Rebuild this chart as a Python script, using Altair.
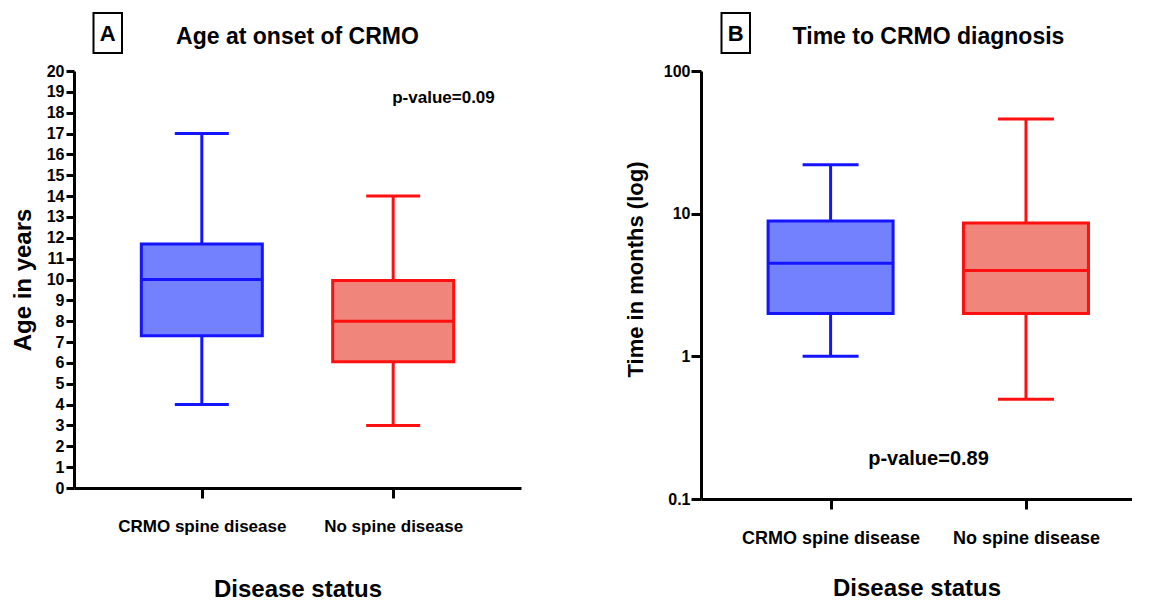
import altair as alt
import pandas as pd

# ---------------- data ----------------
groups = ["CRMO spine disease", "No spine disease"]

age_min = [4, 3]
age_q1 = [7.3, 6.05]
age_med = [10, 8]
age_q3 = [11.7, 9.95]
age_max = [17, 14]

time_min = [1.0, 0.5]
time_q1 = [2.0, 2.0]
time_med = [4.5, 4.0]
time_q3 = [8.9, 8.6]
time_max = [22, 46]

age_ticks = list(range(0, 21))
time_ticks = [0.1, 1, 10, 100]

stroke_colors = ["#1414FF", "#FF1010"]
fill_colors = ["#7381FF", "#F0857B"]
FONT = "Liberation Sans"


def panel(mins, q1, med, q3, maxs, width, height, yscale, yaxis, ytitle,
          box_size, cap_size, xpad, xalign, lab_size, xt_size, xt_pad,
          letter, title, title_dx, pval, pval_x, pval_y, pval_size):
    df = pd.DataFrame({"group": groups, "vmin": mins, "q1": q1, "med": med,
                       "q3": q3, "vmax": maxs})
    x = alt.X("group:N", sort=groups,
              scale=alt.Scale(type="point", domain=groups, padding=xpad, align=xalign),
              axis=alt.Axis(labelAngle=0, tickSize=10, labelPadding=20,
                            labelFontSize=lab_size, titleFontSize=xt_size,
                            titlePadding=xt_pad),
              title="Disease status")

    def Y(field):
        return alt.Y(field, scale=yscale, axis=yaxis, title=ytitle)

    col = alt.Color("group:N", scale=alt.Scale(domain=groups, range=stroke_colors), legend=None)
    base = alt.Chart(df)
    whisk = base.mark_rule(strokeWidth=3).encode(
        x=x, y=Y("vmin:Q"), y2="vmax:Q", color=col)
    box = base.mark_bar(size=box_size, strokeWidth=3).encode(
        x=x, y=Y("q1:Q"), y2="q3:Q",
        fill=alt.Fill("group:N", scale=alt.Scale(domain=groups, range=fill_colors), legend=None),
        stroke=alt.Stroke("group:N", scale=alt.Scale(domain=groups, range=stroke_colors), legend=None))
    median = base.mark_tick(size=box_size + 2, thickness=3, orient="horizontal", opacity=1).encode(
        x=x, y=Y("med:Q"), color=col)
    cap_lo = base.mark_tick(size=cap_size, thickness=3, orient="horizontal", opacity=1).encode(
        x=x, y=Y("vmin:Q"), color=col)
    cap_hi = base.mark_tick(size=cap_size, thickness=3, orient="horizontal", opacity=1).encode(
        x=x, y=Y("vmax:Q"), color=col)

    ann = alt.Chart(pd.DataFrame({"t": [letter]}))
    frame = ann.mark_rect(fill="white", stroke="black", strokeWidth=2).encode(
        x=alt.value(title_dx[0]), x2=alt.value(title_dx[1]),
        y=alt.value(-58), y2=alt.value(-18))
    letter_t = ann.mark_text(font=FONT, fontSize=22, fontWeight="bold", color="black",
                             align="center", baseline="alphabetic").encode(
        text="t:N", x=alt.value((title_dx[0] + title_dx[1]) / 2), y=alt.value(-30))
    title_t = alt.Chart(pd.DataFrame({"t": [title]})).mark_text(
        font=FONT, fontSize=23, fontWeight="bold", color="black",
        align="center", baseline="alphabetic").encode(
        text="t:N", x=alt.value(title_dx[2]), y=alt.value(-27.5))
    pval_t = alt.Chart(pd.DataFrame({"t": [pval]})).mark_text(
        font=FONT, fontSize=pval_size, fontWeight="bold", color="black",
        align="center", baseline="alphabetic").encode(
        text="t:N", x=alt.value(pval_x), y=alt.value(pval_y))

    return alt.layer(whisk, box, median, cap_lo, cap_hi, frame, letter_t, title_t, pval_t).properties(
        width=width, height=height)


yaxis_a = alt.Axis(values=age_ticks, format="d", tickSize=8, labelPadding=2,
                   labelOverlap=False, labelFontSize=16, titleFontSize=24, titlePadding=11)
panel_a = panel(age_min, age_q1, age_med, age_q3, age_max, 447, 417,
                alt.Scale(domain=[0, 20], nice=False, zero=True), yaxis_a, "Age in years",
                121, 54, 0.668, 0.5, 17, 24, 43,
                "A", "Age at onset of CRMO", (19.5, 48, 223.5),
                "p-value=0.09", 369.5, 31.6, 17)

yaxis_b = alt.Axis(values=time_ticks, format="~g", tickSize=10, labelPadding=1,
                   labelOverlap=False, labelFontSize=16, titleFontSize=22, titlePadding=16,
                   titleY=198)
panel_b = panel(time_min, time_q1, time_med, time_q3, time_max, 431, 428,
                alt.Scale(type="log", domain=[0.1, 100], nice=False), yaxis_b, "Time in months (log)",
                125, 56, 0.603, 0.55, 18, 24, 29,
                "B", "Time to CRMO diagnosis", (20.5, 49, 227.5),
                "p-value=0.89", 227.5, 394, 20)

chart = alt.hconcat(panel_a, panel_b, spacing=103).properties(
    padding={"left": 3, "top": 4, "right": 0, "bottom": 0}
).configure_axis(
    domainColor="black", domainWidth=3, tickColor="black", tickWidth=3,
    labelColor="black", titleColor="black", labelFont=FONT, titleFont=FONT,
    labelFontWeight="bold", titleFontWeight="bold", grid=False
).configure_view(stroke=None)

chart.save("out.html", embed_options={"renderer": "svg", "actions": False})
